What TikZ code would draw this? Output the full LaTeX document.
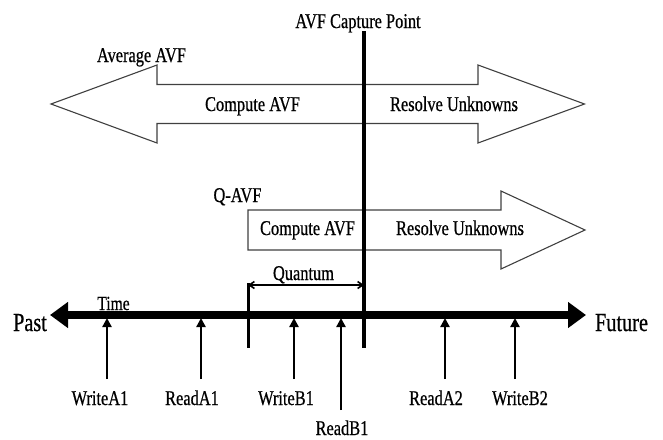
\documentclass[tikz,border=0pt]{standalone}
\usepackage{fontspec}
\setmainfont[FakeStretch=0.78,FakeBold=0.6]{Liberation Serif}
\usetikzlibrary{arrows.meta}
\tikzset{
  lbl/.style={font=\fontsize{21}{24}\selectfont, inner sep=0pt, anchor=base},
  biglbl/.style={font=\fontsize{26}{30}\selectfont, inner sep=0pt, anchor=base},
  fatarrow/.style={draw=black!75, line width=1.1pt, fill=white, line join=miter},
  evt/.style={line width=2.8pt, -{Triangle[length=9pt,width=9pt]}},
  axis/.style={line width=8pt, {Triangle[length=18pt,width=25pt]}-{Triangle[length=18pt,width=25pt]}},
  capline/.style={line width=3.3pt},
  qtick/.style={line width=3pt},
  qarrow/.style={line width=1.6pt, {Straight Barb[length=5pt,width=7pt]}-{Straight Barb[length=5pt,width=7pt]}}
}
\begin{document}
\begin{tikzpicture}[x=1pt,y=1pt]
\useasboundingbox (0,0) rectangle (663,-439);
% big double arrow (Average AVF)
\draw[fatarrow] (51,-104) -- (157,-65) -- (157,-84.5) -- (478,-84.5) -- (478,-65) -- (584.5,-104)
  -- (478,-143) -- (478,-123.5) -- (157,-123.5) -- (157,-143) -- cycle;
% Q-AVF arrow
\draw[fatarrow] (248,-210) -- (501,-210) -- (501,-191) -- (585,-230) -- (501,-269) -- (501,-250)
  -- (248,-250) -- cycle;
% labels
\node[lbl] (cap) at (358,-28) {AVF Capture Point};
\node[lbl] (avg) at (141.5,-62) {Average AVF};
\node[lbl] (comp1) at (252.5,-111) {Compute AVF};
\node[lbl] (res1) at (454,-111) {Resolve Unknowns};
\node[lbl] (qavf) at (237.5,-202) {Q-AVF};
\node[lbl] (comp2) at (307.5,-235) {Compute AVF};
\node[lbl] (res2) at (460,-235) {Resolve Unknowns};
\node[lbl] (quant) at (303.5,-280) {Quantum};
\node[lbl, font=\fontsize{20}{24}\selectfont] (time) at (113.5,-310) {Time};
\node[biglbl] (past) at (30,-331) {Past};
\node[biglbl] (future) at (621.5,-331) {Future};
\node[lbl] (wa1) at (100,-405) {WriteA1};
\node[lbl] (ra1) at (192,-405) {ReadA1};
\node[lbl] (wb1) at (286,-405) {WriteB1};
\node[lbl] (rb1) at (342,-435) {ReadB1};
\node[lbl] (ra2) at (436,-405) {ReadA2};
\node[lbl] (wb2) at (520,-405) {WriteB2};
% coordinates
\coordinate (capT) at (364,-31);
\coordinate (capB) at (364,-348);
\coordinate (qT) at (248,-283);
\coordinate (qB) at (248,-348);
\coordinate (qL) at (248,-285);
\coordinate (qR) at (364,-285);
\coordinate (axL) at (50,-315);
\coordinate (axR) at (586,-315);
\coordinate (wa1b) at (107,-379); \coordinate (wa1t) at (107,-318);
\coordinate (ra1b) at (201,-379); \coordinate (ra1t) at (201,-318);
\coordinate (wb1b) at (294,-379); \coordinate (wb1t) at (294,-318);
\coordinate (rb1b) at (341,-410); \coordinate (rb1t) at (341,-318);
\coordinate (ra2b) at (445,-379); \coordinate (ra2t) at (445,-318);
\coordinate (wb2b) at (515,-379); \coordinate (wb2t) at (515,-318);
% time axis
\draw[axis] (axL) -- (axR);
% capture line and quantum
\draw[capline] (capT) -- (capB);
\draw[qtick] (qT) -- (qB);
\draw[qarrow] (qL) -- (qR);
% events
\draw[evt] (wa1b) -- (wa1t);
\draw[evt] (ra1b) -- (ra1t);
\draw[evt] (wb1b) -- (wb1t);
\draw[evt] (rb1b) -- (rb1t);
\draw[evt] (ra2b) -- (ra2t);
\draw[evt] (wb2b) -- (wb2t);
\end{tikzpicture}
\end{document}
